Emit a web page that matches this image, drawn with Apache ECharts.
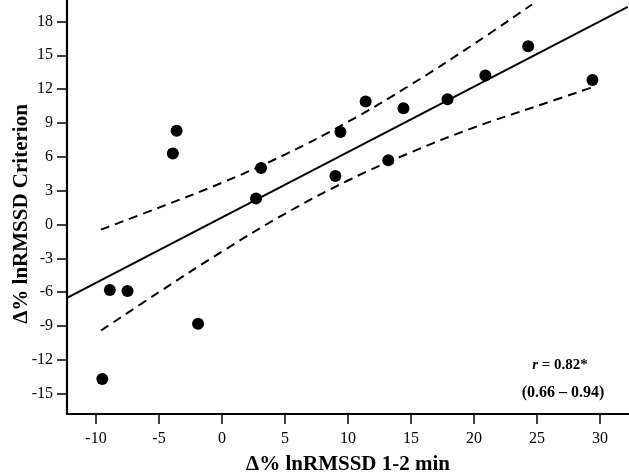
<!DOCTYPE html>
<html>
<head>
<meta charset="utf-8">
<script src="https://cdn.jsdelivr.net/npm/echarts@6/dist/echarts.min.js"></script>
<style>
html,body{margin:0;padding:0;background:#fff;}
#chart{width:629px;height:476px;}
</style>
</head>
<body>
<div id="chart"></div>
<script>
// ---- data ----
const pointsX = [-9.5, -8.9, -7.5, -3.9, -3.6, -1.9, 2.7, 3.1, 9.0, 9.4, 11.4, 13.2, 14.4, 17.9, 20.9, 24.3, 29.4];
const pointsY = [-13.7, -5.8, -5.9, 6.3, 8.3, -8.8, 2.3, 5.0, 4.3, 8.2, 10.9, 5.7, 10.3, 11.1, 13.2, 15.8, 12.8];

const regX = [-12.3, 32.2];
const regY = [-6.5, 19.3];

const upperX = [-9.6, -5, 0, 5, 10, 15, 20, 24.6];
const upperY = [-0.45, 1.5, 3.7, 6.2, 9.1, 12.4, 16.0, 19.5];

const lowerX = [-9.6, -5, 0, 5, 10, 15, 20, 25, 29.5];
const lowerY = [-9.4, -6.0, -2.4, 0.95, 3.9, 6.4, 8.6, 10.5, 12.2];

const xTicks = [-10, -5, 0, 5, 10, 15, 20, 25, 30];
const yTicks = [-15, -12, -9, -6, -3, 0, 3, 6, 9, 12, 15, 18];

const xTitle = 'Δ% lnRMSSD 1-2 min';
const yTitle = 'Δ% lnRMSSD Criterion';
const rText = '= 0.82*';
const ciText = '(0.66 – 0.94)';

// ---- chart ----
const FONT = '"Liberation Serif", "Times New Roman", serif';
const zip = (a, b) => a.map((v, i) => [v, b[i]]);

const chart = echarts.init(document.getElementById('chart'), null, {renderer: 'canvas'});
chart.setOption({
  animation: false,
  backgroundColor: '#fff',
  grid: {left: 67, right: 0, top: 0, bottom: 62, containLabel: false, outerBoundsMode: 'none'},
  xAxis: {
    type: 'value', min: -12.3, max: 32.3,
    splitLine: {show: false},
    axisLine: {show: true, onZero: false, lineStyle: {color: '#000', width: 2.2}},
    axisTick: {show: true, customValues: xTicks, length: 10, lineStyle: {color: '#000', width: 1.5}},
    axisLabel: {customValues: xTicks, color: '#000', fontFamily: FONT, fontSize: 16, margin: 17},
    name: xTitle, nameLocation: 'middle', nameGap: 40,
    nameTextStyle: {color: '#000', fontFamily: FONT, fontSize: 21, fontWeight: 'bold'}
  },
  yAxis: {
    type: 'value', min: -16.8, max: 19.9,
    splitLine: {show: false},
    axisLine: {show: true, onZero: false, lineStyle: {color: '#000', width: 2.2}},
    axisTick: {show: true, customValues: yTicks, length: 10, lineStyle: {color: '#000', width: 1.5}},
    axisLabel: {customValues: yTicks, color: '#000', fontFamily: FONT, fontSize: 16, margin: 14},
    name: yTitle, nameLocation: 'middle', nameGap: 35, nameRotate: 90, nameMoveOverlap: false,
    nameTextStyle: {color: '#000', fontFamily: FONT, fontSize: 21, fontWeight: 'bold', padding: [0, 14, 0, 0]}
  },
  series: [
    {
      type: 'line', data: zip(regX, regY), symbol: 'none', silent: true,
      lineStyle: {color: '#000', width: 2}
    },
    {
      type: 'line', data: zip(upperX, upperY), symbol: 'none', smooth: 0.4, silent: true,
      lineStyle: {color: '#000', width: 2, type: [9, 6]}
    },
    {
      type: 'line', data: zip(lowerX, lowerY), symbol: 'none', smooth: 0.4, silent: true,
      lineStyle: {color: '#000', width: 2, type: [9, 6]}
    },
    {
      type: 'scatter', data: zip(pointsX, pointsY), symbol: 'circle', symbolSize: 12,
      itemStyle: {color: '#000', opacity: 1}, z: 5
    }
  ],
  graphic: [
    {
      type: 'text', x: 560, y: 365,
      style: {
        text: '{i|r} ' + rText,
        fill: '#000', font: 'bold 15px ' + FONT,
        align: 'center', verticalAlign: 'middle',
        rich: {i: {fontStyle: 'italic', fontWeight: 'bold', fontSize: 15, fontFamily: FONT, fill: '#000'}}
      }
    },
    {
      type: 'text', x: 563, y: 393,
      style: {
        text: ciText, fill: '#000', font: 'bold 16px ' + FONT,
        align: 'center', verticalAlign: 'middle'
      }
    }
  ]
});
</script>
</body>
</html>
